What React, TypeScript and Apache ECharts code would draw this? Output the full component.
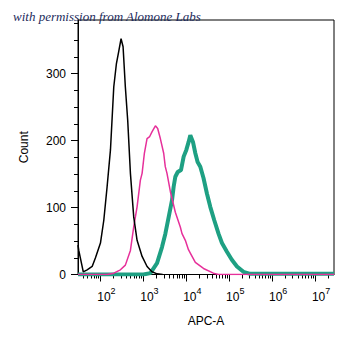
import React, { useEffect, useRef } from "react";
import * as echarts from "echarts";

// x values are decades: log10(APC-A)
const blackX = [1.477, 1.495, 1.6, 1.69, 1.807, 1.884, 2.0, 2.078, 2.155, 2.233, 2.31, 2.372, 2.426, 2.48, 2.527, 2.58, 2.635, 2.698, 2.775, 2.853, 2.97, 3.086, 3.2, 3.32, 3.45];
const blackY = [44, 36, 4, 7, 12, 25, 47, 81, 131, 186, 280, 315, 333, 352, 340, 280, 230, 151, 86, 51, 27, 12, 4, 1, 0];

const pinkX = [1.477, 2.155, 2.31, 2.465, 2.58, 2.698, 2.775, 2.853, 2.93, 2.97, 3.023, 3.085, 3.147, 3.2, 3.28, 3.333, 3.395, 3.473, 3.51, 3.55, 3.628, 3.744, 3.86, 3.9, 3.977, 4.05, 4.093, 4.21, 4.4, 4.63, 4.75, 7.44];
const pinkY = [0, 0, 2, 7, 14, 36, 71, 101, 141, 151, 181, 203, 206, 213, 222, 218, 203, 181, 161, 151, 124, 93, 71, 61, 51, 37, 32, 18, 9, 2, 0, 0];

const greenX = [1.477, 3.0, 3.163, 3.318, 3.434, 3.512, 3.59, 3.667, 3.705, 3.744, 3.8, 3.876, 3.938, 4.0, 4.054, 4.093, 4.155, 4.21, 4.263, 4.326, 4.4, 4.48, 4.558, 4.651, 4.75, 4.83, 4.946, 5.06, 5.18, 5.33, 5.488, 7.44];
const greenY = [0, 0, 2, 17, 41, 61, 86, 111, 131, 146, 153, 156, 176, 186, 198, 208, 198, 181, 168, 161, 144, 121, 101, 81, 61, 47, 34, 22, 12, 4, 1, 1];

const majorDecades = [2, 3, 4, 5, 6, 7];
const minorTicks = [
  1.602, 1.699, 1.778, 1.845, 1.903, 1.954,
  2.301, 2.477, 2.602, 2.699, 2.778, 2.845, 2.903, 2.954,
  3.301, 3.477, 3.602, 3.699, 3.778, 3.845, 3.903, 3.954,
  4.301, 4.477, 4.602, 4.699, 4.778, 4.845, 4.903, 4.954,
  5.301, 5.477, 5.602, 5.699, 5.778, 5.845, 5.903, 5.954,
  6.301, 6.477, 6.602, 6.699, 6.778, 6.845, 6.903, 6.954,
  7.301,
];

const countTicks = [0, 100, 200, 300];
const countMinorTicks = [25, 50, 75, 125, 150, 175, 225, 250, 275, 325, 350, 375];

const xMin = 1.477;
const xMax = 7.44;
const yMax = 380;

const pair = (xs: number[], ys: number[]) => xs.map((x, i) => [x, ys[i]]);

export default function App() {
  const ref = useRef<HTMLDivElement>(null);
  useEffect(() => {
    if (!ref.current) return;
    const chart = echarts.init(ref.current, null, { renderer: "svg" });
    const font = "Liberation Sans, Arial, sans-serif";
    chart.setOption({
      animation: false,
      backgroundColor: "#fff",
      title: {
        text: "with permission from Alomone Labs",
        left: 8,
        top: 5,
        textStyle: {
          fontFamily: "Liberation Serif, serif",
          fontStyle: "italic",
          fontWeight: "normal",
          fontSize: 13,
          color: "#1c2b5c",
        },
      },
      grid: {
        left: 78,
        right: 21,
        top: 20,
        bottom: 73.5,
        show: true,
        borderColor: "#000",
        borderWidth: 1,
        backgroundColor: "transparent",
      },
      xAxis: [
        {
          type: "value",
          min: xMin,
          max: xMax,
          name: "APC-A",
          nameLocation: "middle",
          nameGap: 40,
          nameTextStyle: { fontFamily: font, fontSize: 12, color: "#000" },
          axisLine: { show: true, onZero: false, lineStyle: { color: "#000", width: 1 } },
          axisTick: { show: true, customValues: majorDecades, length: 7, lineStyle: { color: "#000", width: 1 } },
          axisLabel: {
            customValues: majorDecades,
            margin: 12,
            padding: [0, 0, 0, 12],
            formatter: (v: number) => `{b|10}{s|${Math.round(v)}}`,
            rich: {
              b: { fontFamily: font, fontSize: 12, color: "#000", verticalAlign: "bottom", lineHeight: 16 },
              s: { fontFamily: font, fontSize: 9, color: "#000", verticalAlign: "top", lineHeight: 16 },
            },
          },
          splitLine: { show: false },
        },
        {
          type: "value",
          min: xMin,
          max: xMax,
          position: "bottom",
          axisLine: { show: false },
          axisTick: { show: true, customValues: minorTicks, length: 4, lineStyle: { color: "#000", width: 1 } },
          axisLabel: { show: false },
          splitLine: { show: false },
        },
      ],
      yAxis: [
        {
          type: "value",
          min: 0,
          max: yMax,
          name: "Count",
          nameLocation: "middle",
          nameGap: 48,
          nameTextStyle: { fontFamily: font, fontSize: 12, color: "#000" },
          axisLine: { show: true, lineStyle: { color: "#000", width: 1 } },
          axisTick: { show: true, customValues: countTicks, length: 7, lineStyle: { color: "#000", width: 1 } },
          axisLabel: { customValues: countTicks, margin: 12, fontFamily: font, fontSize: 12, color: "#000" },
          splitLine: { show: false },
        },
        {
          type: "value",
          min: 0,
          max: yMax,
          position: "left",
          axisLine: { show: false },
          axisTick: { show: true, customValues: countMinorTicks, length: 4, lineStyle: { color: "#000", width: 1 } },
          axisLabel: { show: false },
          splitLine: { show: false },
        },
      ],
      series: [
        {
          type: "line",
          data: pair(greenX, greenY),
          symbol: "none",
          lineStyle: { color: "#1ea083", width: 4 },
          z: 2,
        },
        {
          type: "line",
          data: pair(pinkX, pinkY),
          symbol: "none",
          lineStyle: { color: "#e6309a", width: 1.5 },
          z: 3,
        },
        {
          type: "line",
          data: pair(blackX, blackY),
          symbol: "none",
          lineStyle: { color: "#000", width: 1.5 },
          z: 4,
        },
      ],
    });
    return () => chart.dispose();
  }, []);
  return <div ref={ref} style={{ width: 355, height: 348, position: "absolute", left: 0, top: 0 }} />;
}
